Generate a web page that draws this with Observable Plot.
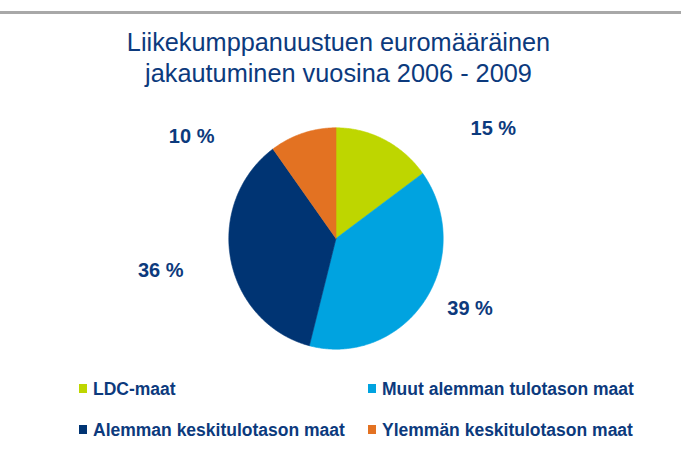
<!DOCTYPE html>
<html>
<head>
<meta charset="utf-8">
<script src="https://cdn.jsdelivr.net/npm/d3@7"></script>
<script src="https://cdn.jsdelivr.net/npm/@observablehq/plot@0.6"></script>
<style>
  html, body { margin: 0; padding: 0; background: #fff; }
  #wrap { position: relative; width: 681px; height: 453px; overflow: hidden; font-family: "Liberation Sans", Arial, sans-serif; color: #0c3a7d; }
  #topline { position: absolute; left: 0; top: 11px; width: 681px; height: 3px; background: #a8a8a8; }
  #title { position: absolute; left: -2px; top: 27px; width: 681px; text-align: center; font-size: 25.3px; line-height: 31px; color: #0c3a7d; }
  #chart { position: absolute; left: 0; top: 100px; }
  .leg { position: absolute; font-weight: bold; font-size: 17.5px; line-height: 20px; white-space: nowrap; color: #0c3a7d; }
  .sw { position: absolute; width: 8px; height: 9px; }
</style>
</head>
<body>
<div id="wrap">
  <div id="topline"></div>
  <div id="title">Liikekumppanuustuen euromääräinen<br>jakautuminen vuosina 2006 - 2009</div>
  <div id="chart"></div>
  <div id="legend"></div>
</div>
<script>
// ---- data ----
const categories = ["LDC-maat", "Muut alemman tulotason maat", "Alemman keskitulotason maat", "Ylemmän keskitulotason maat"];
const shares = [15, 39, 36, 10];
const percentLabels = ["15 %", "39 %", "36 %", "10 %"];
const colors = ["#bed600", "#00a3e0", "#003473", "#e37222"];

// ---- layout (label placement relative to slice mid-angle, legend grid) ----
const labelTurn = [29, -7.5, 0.8, -37.7];   // degrees shift from slice mid-angle
const labelRadius = [1.77, 1.40, 1.66, 1.63]; // in pie radii
const legendPos = [[79, 384], [368, 384], [79, 425], [368, 425]];

const arcs = d3.pie().sort(null).value(d => d)(shares);

const slicePoints = [];
arcs.forEach((a, i) => {
  const cat = categories[i];
  slicePoints.push({cat, x: 0, y: 0});
  const n = Math.max(2, Math.ceil((a.endAngle - a.startAngle) / (Math.PI / 360)));
  for (let k = 0; k <= n; k++) {
    const t = a.startAngle + (a.endAngle - a.startAngle) * k / n;
    slicePoints.push({cat, x: Math.sin(t), y: Math.cos(t)});
  }
  slicePoints.push({cat, x: 0, y: 0});
});

const labels = arcs.map((a, i) => {
  const mid = (a.startAngle + a.endAngle) / 2 + labelTurn[i] * Math.PI / 180;
  return {text: percentLabels[i], x: Math.sin(mid) * labelRadius[i], y: Math.cos(mid) * labelRadius[i]};
});

const chart = Plot.plot({
  width: 681,
  height: 270,
  margin: 0,
  style: {background: "transparent", overflow: "visible"},
  x: {domain: [-1, 1], range: [228.3, 442.7], axis: null},
  y: {domain: [-1, 1], range: [248.7, 27.3], axis: null},
  color: {domain: categories, range: colors},
  marks: [
    Plot.line(slicePoints, {x: "x", y: "y", z: "cat", fill: "cat", stroke: "cat", strokeWidth: 0.6, curve: "linear"}),
    Plot.text(labels, {x: "x", y: "y", text: "text", fill: "#0c3a7d", fontSize: 20, fontWeight: "bold", fontFamily: "'Liberation Sans', sans-serif"})
  ]
});
document.getElementById("chart").appendChild(chart);

const legend = document.getElementById("legend");
categories.forEach((c, i) => {
  const [lx, ly] = legendPos[i];
  const sw = document.createElement("div");
  sw.className = "sw";
  sw.style.left = lx + "px";
  sw.style.top = ly + "px";
  sw.style.background = chart.scale("color").apply(c);
  legend.appendChild(sw);
  const d = document.createElement("div");
  d.className = "leg";
  d.style.left = (lx + 14) + "px";
  d.style.top = (ly - 5) + "px";
  d.textContent = c;
  legend.appendChild(d);
});
</script>
</body>
</html>
